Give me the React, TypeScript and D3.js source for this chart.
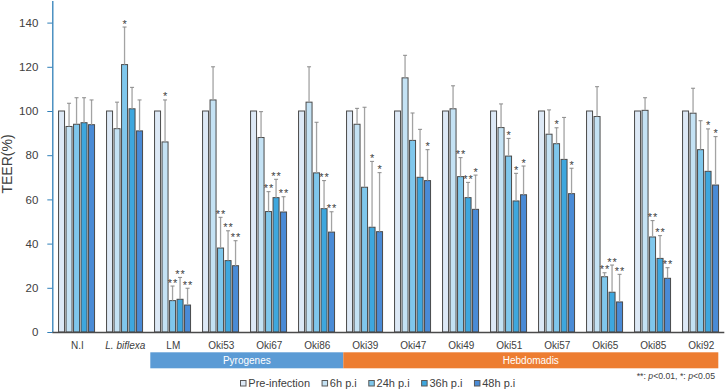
import React, { useEffect, useRef } from "react";
import * as d3 from "d3";

// strains on the x axis
const groups = ["N.I", "L. biflexa", "LM", "Oki53", "Oki67", "Oki86", "Oki39", "Oki47", "Oki49", "Oki51", "Oki57", "Oki65", "Oki85", "Oki92"];
const seriesNames = ["Pre-infection", "6h p.i", "24h p.i", "36h p.i", "48h p.i"];
const seriesColors = ["#dde9f6", "#c4e2f4", "#7fc7ec", "#3ea7de", "#4a8bd6"];

// TEER (%) per time point
const preInfection = [100, 100, 100, 100, 100, 100, 100, 100, 100, 100, 100, 100, 100, 100];
const h6 = [93, 92, 86, 105, 88, 104, 94, 115, 101, 92.5, 89.5, 97.5, 100.3, 99];
const h24 = [94, 121, 14.2, 38, 54.5, 72, 65.5, 86.7, 70.3, 79.6, 85.2, 25, 43, 82.5];
const h36 = [94.7, 101, 14.8, 32.3, 60.8, 55.8, 47.4, 70, 60.8, 59.3, 78.1, 18, 33.3, 72.7];
const h48 = [93.8, 91, 12.2, 30, 54.3, 45.2, 45.4, 68.5, 55.5, 62.1, 62.6, 13.6, 24.3, 66.5];

// standard deviations (upper bars only)
const preErr = [null, null, null, null, null, null, null, null, null, null, null, null, null, null];
const h6Err = [10.5, 12, 19, 15, 11.7, 16, 7.2, 10.2, 10.4, 10.7, 11, 13.5, 5.7, 11.3];
const h24Err = [12, 17, 6.6, 13.9, 9, 22.9, 36.2, 12.4, 8.6, 8, 7.2, 1.8, 7.4, 13.1];
const h36Err = [11.3, 9.7, 9.9, 13.5, 8.3, 12.7, 29.8, 21.7, 6.9, 12.5, 19, 12.3, 10.3, 19.2];
const h48Err = [11.2, 14, 7.6, 11.3, 6.9, 9.2, 26.7, 14, 15.5, 13, 11.5, 12.5, 4.8, 21.9];

// significance marks
const preSig = ["", "", "", "", "", "", "", "", "", "", "", "", "", ""];
const h6Sig = ["", "", "*", "", "", "", "", "", "", "", "", "", "", ""];
const h24Sig = ["", "*", "**", "**", "**", "", "", "", "**", "*", "*", "**", "**", ""];
const h36Sig = ["", "", "**", "**", "**", "**", "*", "", "**", "*", "", "**", "**", "*"];
const h48Sig = ["", "", "**", "**", "**", "**", "*", "*", "*", "*", "*", "**", "**", "*"];

const yTicks = [0, 20, 40, 60, 80, 100, 120, 140];

const cladeNames = ["Pyrogenes", "Hebdomadis"];
const cladeFirst = ["LM", "Oki39"];
const cladeLast = ["Oki86", "Oki92"];
const cladeColors = ["#5b9bd5", "#ed7d31"];

const values = [preInfection, h6, h24, h36, h48];
const errors = [preErr, h6Err, h24Err, h36Err, h48Err];
const sigs = [preSig, h6Sig, h24Sig, h36Sig, h48Sig];

const FONT = "'Liberation Sans', Arial, sans-serif";
const TEXT = "#404040";

const TeerChart = () => {
    const ref = useRef<SVGSVGElement>(null);

    useEffect(() => {
        const width = 727;
        const height = 390;
        const svg = d3.select(ref.current);
        svg.selectAll("*").remove();
        svg.attr("width", width).attr("height", height);

        const x = d3.scaleBand().domain(groups).range([52.3, 724.3]).padding(0);
        const xi = d3.scaleBand().domain(seriesNames).range([5.5, 43]).paddingInner(0.2).paddingOuter(0.1);
        const y = d3.scaleLinear().domain([0, 150]).range([332, 0.5]);

        const rows = groups.flatMap((g, gi) =>
            seriesNames.map((s, si) => ({
                g, s, si,
                v: values[si][gi],
                e: errors[si][gi],
                sig: sigs[si][gi],
            }))
        );

        // bars
        svg.append("g")
            .selectAll("rect")
            .data(rows)
            .enter()
            .append("rect")
            .attr("x", (d) => x(d.g)! + xi(d.s)!)
            .attr("y", (d) => y(d.v))
            .attr("width", xi.bandwidth())
            .attr("height", (d) => y(0) - y(d.v))
            .attr("fill", (d) => seriesColors[d.si])
            .attr("stroke", "#4a4a4a")
            .attr("stroke-width", 1);

        // error bars
        const withErr = rows.filter((d) => d.e != null);
        const eg = svg.append("g").attr("stroke", "#a3a3a3");
        eg.selectAll("line.stem")
            .data(withErr)
            .enter()
            .append("line")
            .attr("class", "stem")
            .attr("x1", (d) => x(d.g)! + xi(d.s)! + xi.bandwidth() / 2)
            .attr("x2", (d) => x(d.g)! + xi(d.s)! + xi.bandwidth() / 2)
            .attr("y1", (d) => y(d.v))
            .attr("y2", (d) => y(d.v + (d.e as number)))
            .attr("stroke-width", 1.3);
        eg.selectAll("line.cap")
            .data(withErr)
            .enter()
            .append("line")
            .attr("class", "cap")
            .attr("x1", (d) => x(d.g)! + xi(d.s)! + xi.bandwidth() / 2 - 2)
            .attr("x2", (d) => x(d.g)! + xi(d.s)! + xi.bandwidth() / 2 + 2)
            .attr("y1", (d) => y(d.v + (d.e as number)))
            .attr("y2", (d) => y(d.v + (d.e as number)))
            .attr("stroke", "#8a8a8a")
            .attr("stroke-width", 1);

        // significance asterisks
        svg.append("g")
            .selectAll("text")
            .data(rows.filter((d) => d.sig))
            .enter()
            .append("text")
            .attr("x", (d) => x(d.g)! + xi(d.s)! + xi.bandwidth() / 2 + 0.5)
            .attr("y", (d) => y(d.v + (d.e ?? 0)) + 0.5)
            .attr("text-anchor", "middle")
            .attr("font-family", FONT)
            .attr("font-size", 11)
            .attr("letter-spacing", 1)
            .attr("fill", TEXT)
            .text((d) => d.sig);

        // y axis
        const ya = svg.append("g")
            .attr("transform", `translate(${x.range()[0]},0)`)
            .call(d3.axisLeft(y).tickValues(yTicks).tickSize(5).tickSizeOuter(0).tickPadding(9));
        ya.select(".domain").attr("stroke", "#2f7fb8").attr("stroke-width", 1.3);
        ya.selectAll(".tick line").attr("stroke", "#2f7fb8");
        ya.selectAll(".tick text")
            .attr("font-family", FONT)
            .attr("font-size", 11.5)
            .attr("fill", TEXT);

        svg.append("text")
            .attr("transform", `translate(12,164) rotate(-90)`)
            .attr("text-anchor", "middle")
            .attr("font-family", FONT)
            .attr("font-size", 14)
            .attr("fill", TEXT)
            .text("TEER(%)");

        // x axis baseline and strain labels
        svg.append("line")
            .attr("x1", x.range()[0])
            .attr("x2", x.range()[1])
            .attr("y1", y(0) + 0.5)
            .attr("y2", y(0) + 0.5)
            .attr("stroke", "#4a4a4a")
            .attr("stroke-width", 1.4);

        svg.append("g")
            .selectAll("text")
            .data(groups)
            .enter()
            .append("text")
            .attr("x", (d) => x(d)! + x.bandwidth() / 2 + 1)
            .attr("y", 348.5)
            .attr("text-anchor", "middle")
            .attr("font-family", FONT)
            .attr("font-size", 10)
            .attr("font-style", (d) => (d === "L. biflexa" ? "italic" : "normal"))
            .attr("fill", TEXT)
            .text((d) => d);

        // serogroup bands
        cladeNames.forEach((name, i) => {
            const x0 = x(cladeFirst[i])! + (i === 0 ? 2 : 3);
            const x1 = i === cladeNames.length - 1
                ? x(cladeLast[i])! + x.bandwidth() - 6
                : x(cladeFirst[i + 1])! + 3;
            svg.append("rect")
                .attr("x", x0)
                .attr("y", 352.3)
                .attr("width", x1 - x0)
                .attr("height", 16)
                .attr("fill", cladeColors[i]);
            svg.append("text")
                .attr("x", (x0 + x1) / 2)
                .attr("y", 364)
                .attr("text-anchor", "middle")
                .attr("font-family", FONT)
                .attr("font-size", 10)
                .attr("fill", "#ffffff")
                .text(name);
        });

        // legend
        const legend = svg.append("g").attr("transform", "translate(240,0)");
        let lx = 0;
        seriesNames.forEach((name, i) => {
            legend.append("rect")
                .attr("x", lx + 0.5)
                .attr("y", 380.5)
                .attr("width", 5.5)
                .attr("height", 5.5)
                .attr("fill", seriesColors[i])
                .attr("stroke", "#595959")
                .attr("stroke-width", 1);
            const t = legend.append("text")
                .attr("x", lx + 8.3)
                .attr("y", 387)
                .attr("font-family", FONT)
                .attr("font-size", 11)
                .attr("fill", TEXT)
                .text(name);
            const w = (t.node() as SVGTextElement).getComputedTextLength();
            lx += 8.3 + w + 11.5;
        });

        // p-value note
        const note = svg.append("text")
            .attr("x", 715)
            .attr("y", 378.5)
            .attr("text-anchor", "end")
            .attr("font-family", FONT)
            .attr("font-size", 8.7)
            .attr("fill", TEXT);
        note.append("tspan").text("**: ");
        note.append("tspan").attr("font-style", "italic").text("p");
        note.append("tspan").text("<0.01, *: ");
        note.append("tspan").attr("font-style", "italic").text("p");
        note.append("tspan").text("<0.05");
    }, []);

    return <svg ref={ref} style={{ position: "absolute", left: 0, top: 0, background: "#ffffff" }}></svg>;
};

export default function App() {
    return <TeerChart />;
}
